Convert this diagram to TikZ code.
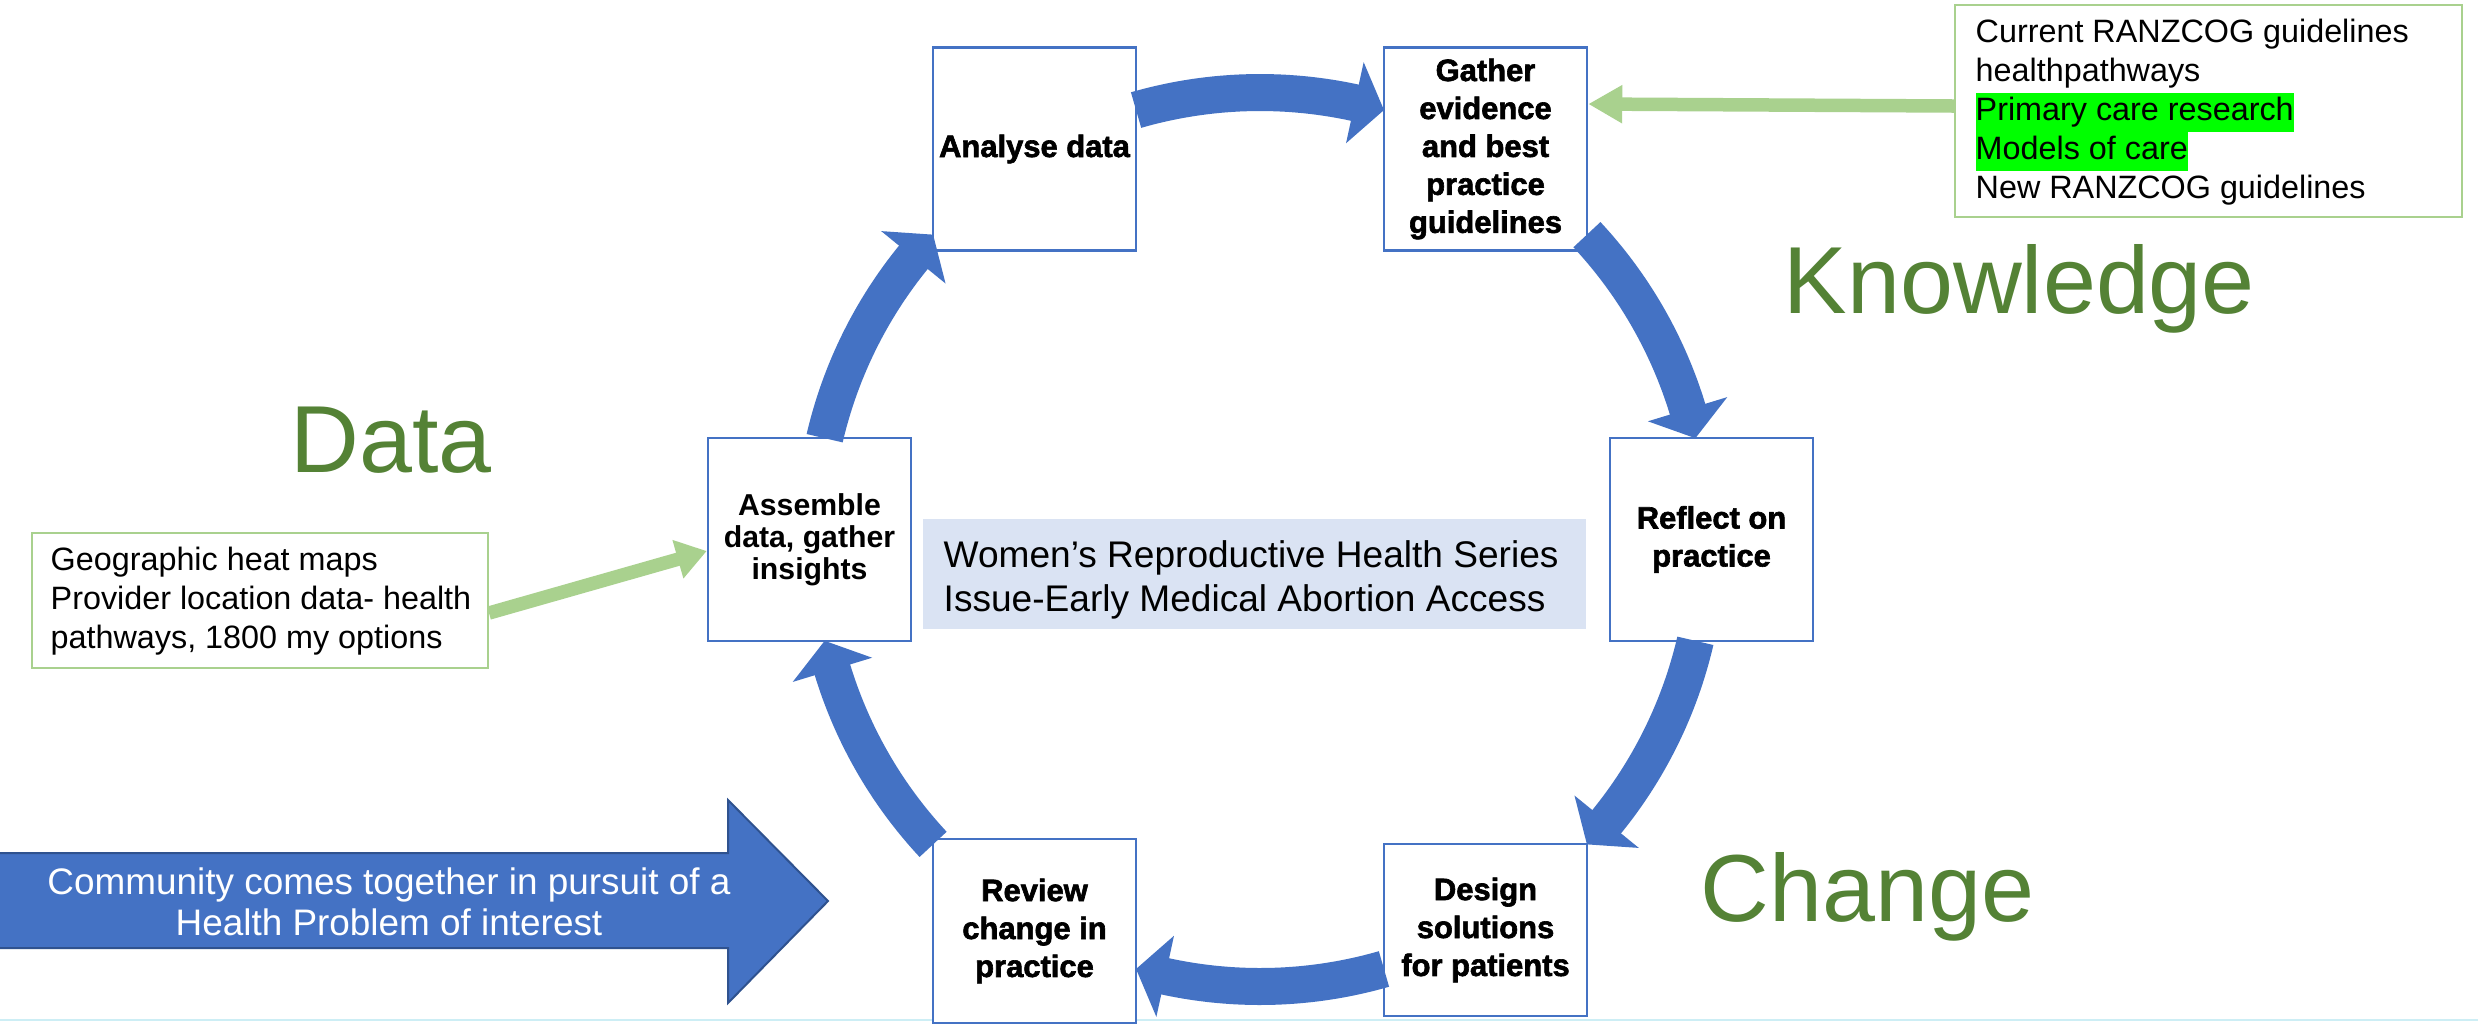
\documentclass[tikz,border=0pt]{standalone}
\usepackage{fontspec}
\setmainfont{Liberation Sans}
\usetikzlibrary{arrows.meta}

\definecolor{boxblue}{HTML}{4472C4}
\definecolor{darkblue}{HTML}{2F528F}
\definecolor{srcgreen}{HTML}{A9D18E}
\definecolor{labelgreen}{HTML}{548235}
\definecolor{panelblue}{HTML}{DAE3F3}
\definecolor{hlgreen}{HTML}{00FF00}
\definecolor{edgecyan}{HTML}{CDEEF5}

% highlighted line inside the sources list
\newcommand\greenmark[1]{{\setlength{\fboxsep}{0pt}\colorbox{hlgreen}{\strut #1}}}

% centre and radius of the cycle of curved arrows
\newcommand\cycX{1260}
\newcommand\cycY{539.5}
% curved block arrow along the cycle: #1 tail angle, #2 tip angle (clockwise)
\newcommand\cyclearrow[2]{%
  \pgfmathsetmacro\hbase{#2+3.85}%
  \pgfmathsetmacro\sbase{\hbase-0.4}%
  \fill[cycfill] plot[domain=#1:\sbase,samples=40] ({\cycX+428.5*cos(\x)},{\cycY-428.5*sin(\x)})
    -- plot[domain=\sbase:#1,samples=40] ({\cycX+465.5*cos(\x)},{\cycY-465.5*sin(\x)}) -- cycle;
  \fill[cycfill] ({\cycX+405.5*cos(\hbase)},{\cycY-405.5*sin(\hbase)})
    -- ({\cycX+447*cos(#2)},{\cycY-447*sin(#2)})
    -- ({\cycX+488.5*cos(\hbase)},{\cycY-488.5*sin(\hbase)}) -- cycle;
}

\tikzset{
  stepbox/.style={draw=boxblue, line width=0.25mm, fill=white, minimum width=20.3mm,
    minimum height=20.3mm, inner sep=0pt, align=center,
    font=\fontsize{8.6pt}{9.1pt}\selectfont\bfseries},
  heavytext/.style={font=\fontsize{8.8pt}{10.8pt}\selectfont\bfseries\addfontfeature{FakeBold=2}},
  srcbox/.style={draw=srcgreen, line width=0.2mm, fill=white, inner sep=0pt},
  srctext/.style={inner sep=0pt, align=left, font=\fontsize{9.2pt}{11.05pt}\selectfont},
  srcarrow/.style={draw=srcgreen, line width=1.35mm},
  cycfill/.style={fill=boxblue},
  biglabel/.style={text=labelgreen, inner sep=0pt, anchor=base west,
    font=\fontsize{27.1pt}{32pt}\selectfont},
}

\begin{document}
\begin{tikzpicture}[x=0.1mm, y=-0.1mm]
\useasboundingbox (0,0) rectangle (2478,1023);
\fill[white] (0,0) rectangle (2478,1023);

% faint edge at the foot of the slide
\draw[edgecyan, line width=0.25mm] (0,1020) -- (2478,1020);

% cycle steps
\node[stepbox, heavytext] (analyse) at (1034.5,149) {Analyse data};
\node[stepbox, heavytext] (gather) at (1485.5,149) {Gather\\evidence\\and best\\practice\\guidelines};
\node[stepbox, heavytext] (reflect) at (1711.5,539.5) {Reflect on\\practice};
\node[stepbox, heavytext, minimum height=17.2mm] (design) at (1485.5,930) {Design\\solutions\\for patients};
\node[stepbox, heavytext, minimum height=18.4mm] (review) at (1034.5,931) {Review\\change in\\practice};
\node[stepbox] (assemble) at (809.5,539.5) {Assemble\\data, gather\\insights};

% curved arrows between the steps
\cyclearrow{166.9}{137.0}
\cyclearrow{106.1}{73.9}
\cyclearrow{43.0}{13.1}
\cyclearrow{-13.1}{-43.0}
\cyclearrow{-73.9}{-106.1}
\cyclearrow{-137.0}{-166.9}

% central title panel
\node[fill=panelblue, minimum width=66.3mm, minimum height=11mm, inner sep=0pt] (panel) at (1254.5,574) {};
\node[inner sep=0pt, align=left, anchor=west, font=\fontsize{10.55pt}{12.5pt}\selectfont] (title) at (943,580)
  {Women’s Reproductive Health Series\\Issue-Early Medical Abortion Access};

% knowledge sources
\node[srcbox, minimum width=50.7mm, minimum height=21.2mm] (ksrc) at (2208.5,111) {};
\node[srctext, anchor=west] (klist) at (1975,112)
  {Current RANZCOG guidelines\\healthpathways\\\greenmark{Primary care research}\\\greenmark{Models of care}\\New RANZCOG guidelines};
\draw[srcarrow, -{Triangle[length=3.4mm, width=3.6mm]}] ([yshift=0.5mm]ksrc.west) -- ([yshift=4.5mm]gather.east);

% data sources
\node[srcbox, minimum width=45.6mm, minimum height=13.5mm] (dsrc) at (260,600.5) {};
\node[srctext, anchor=west] (dlist) at (50,601)
  {Geographic heat maps\\Provider location data- health\\pathways, 1800 my options};
\draw[srcarrow, -{Triangle[length=3.0mm, width=3.8mm]}] ([yshift=-1.25mm]dsrc.east) -- ([yshift=-1.15mm]assemble.west);

% community block arrow
\fill[boxblue, draw=darkblue, line width=0.2mm]
  (-10,853) -- (728,853) -- (728,800) -- (828,901) -- (728,1003) -- (728,948) -- (-10,948) -- cycle;
\node[text=white, inner sep=0pt, align=center, font=\fontsize{10.5pt}{11.7pt}\selectfont] (community) at (389,902)
  {Community comes together in pursuit of a\\Health Problem of interest};

% phase labels
\node[biglabel] (knowledge) at (1783,313) {Knowledge};
\node[biglabel] (datalabel) at (290,472) {Data};
\node[biglabel] (change) at (1700,921) {Change};
\end{tikzpicture}
\end{document}
